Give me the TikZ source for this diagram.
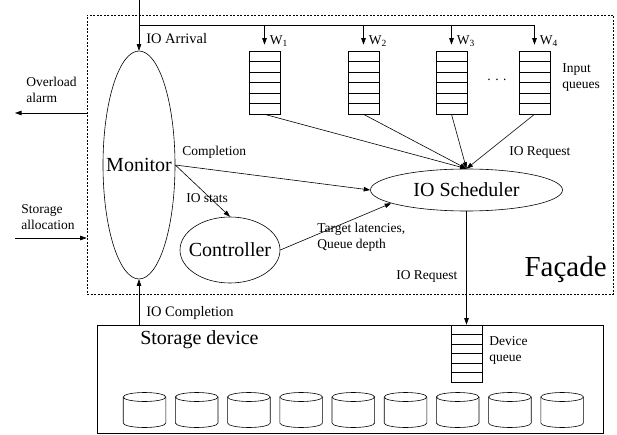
\documentclass[tikz,border=0pt]{standalone}
\usepackage{fontspec}
\setmainfont{Liberation Serif}
\usetikzlibrary{arrows.meta,shapes.geometric,calc}

\begin{document}
\begin{tikzpicture}[x=1pt,y=-1pt,line width=0.6pt,
  >={Triangle[length=6.5pt,width=4.5pt]},
  small/.style={font=\fontsize{13.5}{16}\selectfont,inner sep=0pt,align=left},
  mid/.style={font=\fontsize{14.5}{17}\selectfont,inner sep=0pt},
  big/.style={font=\fontsize{20}{24}\selectfont},
  oval/.style={draw,ellipse,inner sep=0pt},
  queue/.style={draw,rectangle,minimum width=31pt,inner sep=0pt}]
\useasboundingbox (0,0) rectangle (617,435);

\node[draw,dash pattern=on 2pt off 1.5pt,minimum width=526pt,minimum height=279pt,inner sep=0pt] (fac) at (350,154.5) {};
\node[font=\fontsize{29}{32}\selectfont,anchor=base east,inner sep=0pt] (facade) at (607,276) {Façade};

\node[oval,minimum width=72pt,minimum height=228pt,label={[big]center:Monitor}] (mon) at (139,165) {};
\node[oval,minimum width=100pt,minimum height=66pt,label={[big]center:Controller}] (ctrl) at (230,250) {};
\node[oval,minimum width=192pt,minimum height=42pt,label={[big]center:IO Scheduler}] (sched) at (466.5,190) {};

\node[queue,minimum height=63pt] (q1) at (264.5,82.5) {};
\node[queue,minimum height=63pt] (q2) at (363.5,82.5) {};
\node[queue,minimum height=63pt] (q3) at (451.5,82.5) {};
\node[queue,minimum height=63pt] (q4) at (534.5,82.5) {};
\node[small] (dots) at (497,80) {.\,\,.\,\,.};
\node[small,anchor=west] (inq) at (562,78) {Input\\queues};

\coordinate (in) at (139,0);
\coordinate (trunk) at (139,25);
\draw[->] (in) -- (mon.north);
\draw (trunk) -- (q4.north |- trunk);
\node[mid,anchor=west] (arrival) at (146,39) {IO Arrival};

\foreach \q/\w in {q1/1,q2/2,q3/3,q4/4}{
  \draw[->,shorten >=6pt] (\q.north |- trunk) -- (\q.north);
  \node[small,anchor=base west] (w\w) at ([xshift=5pt,yshift=6pt]\q.north) {W\textsubscript{\w}};
  \foreach \k in {1,...,5}
    \draw ($(\q.north west)!\k/6!(\q.south west)$) -- ($(\q.north east)!\k/6!(\q.south east)$);
  \draw[->] (\q.south) -- (sched.north);
}
\node[small,anchor=west] (req1) at (509,152) {IO Request};

\draw[->] (mon.east) -- (sched.west);
\node[small,anchor=west] (compl) at (182,152) {Completion};
\draw[->] (mon.east) -- (ctrl.north);
\node[small,anchor=west] (stats) at (186,198) {IO stats};
\draw[->] (ctrl.east) -- (sched.190);
\node[small,anchor=west] (target) at (317,237) {Target latencies,\\Queue depth};

\coordinate (alarm) at (15,113);
\draw[->] (alarm -| fac.west) -- (alarm);
\node[small,anchor=west] (alarmtxt) at (26,89.5) {Overload\\alarm};
\coordinate (alloc) at (15,238);
\draw[->] (alloc) -- (alloc -| fac.west);
\node[small,anchor=west] (alloctxt) at (21,217) {Storage\\allocation};

\node[draw,minimum width=506pt,minimum height=108pt,inner sep=0pt] (dev) at (350,379) {};
\node[big,anchor=west,inner sep=0pt] (devtxt) at (140,340) {Storage device};
\node[queue,minimum height=57pt] (dq) at (466.5,353.5) {};
\foreach \k in {1,...,5}
  \draw ($(dq.north west)!\k/6!(dq.south west)$) -- ($(dq.north east)!\k/6!(dq.south east)$);
\node[small,anchor=west] (dqtxt) at (489,350.5) {Device\\queue};
\draw[->] (sched.south -| dq.north) -- (dq.north);
\node[small,anchor=west] (req2) at (396,276) {IO Request};

\draw[->] (dev.north -| mon.south) -- (mon.south);
\node[mid,anchor=west] (compltxt) at (146,313) {IO Completion};

\foreach \i in {0,...,8}{
  \draw ($(144.5+52.2*\i-21.3,397)$) -- ++(0,26) arc[start angle=180,end angle=360,x radius=21.3pt,y radius=4.5pt] -- ++(0,-26);
  \draw ($(144.5+52.2*\i,397)$) ellipse[x radius=21.3pt,y radius=4.5pt];
}
\end{tikzpicture}
\end{document}
